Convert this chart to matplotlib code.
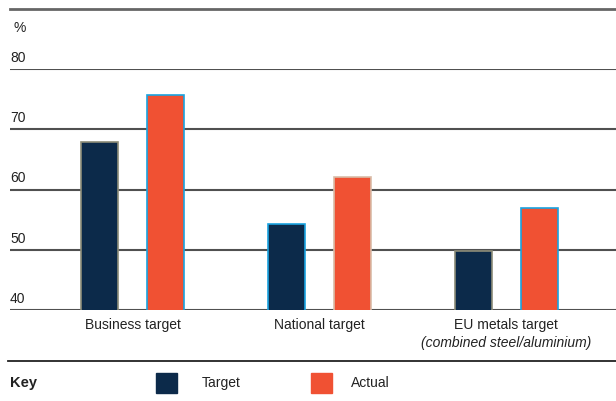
import matplotlib
matplotlib.use("Agg")
import matplotlib.pyplot as plt
import matplotlib.transforms as mtransforms
from matplotlib.patches import Rectangle
from matplotlib.lines import Line2D
import numpy as np

plt.rcParams['font.family'] = ['Liberation Sans', 'DejaVu Sans']

categories = ["Business target", "National target", "EU metals target"]
sublabels = ["", "", "(combined steel/aluminium)"]
target = [67.9, 54.3, 49.8]
actual = [75.7, 62.0, 56.9]
yticks = [40, 50, 60, 70, 80]
series_names = ["Target", "Actual"]

navy = "#0c2a4a"
orange = "#f05133"
target_edges = ["#8c8c78", "#1aa3e0", "#8c8c78"]
actual_edges = ["#1aa3e0", "#d9bca8", "#1aa3e0"]

W, H = 616, 401
fig = plt.figure(figsize=(W / 100, H / 100), dpi=100)

def fx(px):
    return px / W

def fy(py):
    return 1 - py / H

ax = fig.add_axes([fx(10), fy(310), fx(616) - fx(10), fy(69) - fy(310)])
x = np.arange(len(categories))
bw = 0.198
off = 0.176
ax.bar(x - off, target, bw, color=navy, edgecolor=target_edges, linewidth=1.2, zorder=3)
ax.bar(x + off, actual, bw, color=orange, edgecolor=actual_edges, linewidth=1.2, zorder=3)

ax.set_ylim(40, 80)
ax.set_xlim(-0.655, 2.586)
ax.set_yticks(yticks)
ax.set_yticklabels([str(t) for t in yticks])
ax.yaxis.grid(True, color="#505050", linewidth=1.5, zorder=1)
ax.set_axisbelow(True)
for s in ax.spines.values():
    s.set_visible(False)
ax.tick_params(axis='y', length=0, pad=0, labelsize=10, labelcolor="#222222")
ax.tick_params(axis='x', length=0, pad=6)
offset = mtransforms.ScaledTranslation(0, 3 / 72, fig.dpi_scale_trans)
for lab in ax.get_yticklabels():
    lab.set_horizontalalignment('left')
    lab.set_verticalalignment('bottom')
    lab.set_transform(lab.get_transform() + offset)
ax.set_xticks(x)
ax.set_xticklabels(categories, fontsize=10, color="#222222")
for i, sub in enumerate(sublabels):
    if sub:
        ax.annotate(sub, xy=(x[i], 0), xycoords=('data', 'axes fraction'),
                    xytext=(0, -18.5), textcoords='offset points', ha='center', va='top',
                    fontsize=10, style='italic', color="#222222")

# "%" unit label
fig.text(fx(13), fy(28), "%", fontsize=10, color="#222222", va='center', ha='left')

# top rule and bottom separator
fig.add_artist(Line2D([fx(10), 1], [fy(9), fy(9)], color="#666666", linewidth=2))
fig.add_artist(Line2D([fx(8), 1], [fy(361), fy(361)], color="#222222", linewidth=1.3))

# Key
fig.text(fx(10), fy(383), "Key", fontsize=10.5, fontweight='bold', color="#222222", va='center')
fig.add_artist(Rectangle((fx(156), fy(393)), fx(177) - fx(156), fy(373) - fy(393), color=navy, transform=fig.transFigure))
fig.text(fx(202), fy(383), series_names[0], fontsize=10, color="#222222", va='center')
fig.add_artist(Rectangle((fx(311), fy(393)), fx(332) - fx(311), fy(373) - fy(393), color=orange, transform=fig.transFigure))
fig.text(fx(351), fy(383), series_names[1], fontsize=10, color="#222222", va='center')

fig.savefig("out.png", dpi=100)
